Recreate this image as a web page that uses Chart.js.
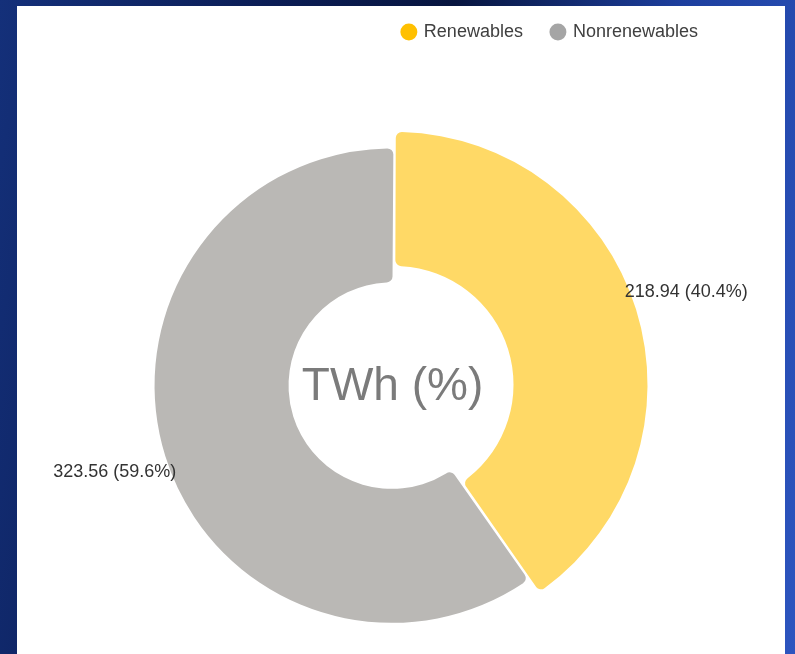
<!DOCTYPE html>
<html>
<head>
<meta charset="utf-8">
<script src="https://cdn.jsdelivr.net/npm/chart.js@4.4.0/dist/chart.umd.min.js"></script>
<style>
  html, body { margin: 0; width: 795px; height: 654px; overflow: hidden; }
  body {
    position: relative;
    background: linear-gradient(100deg, #14307a 0%, #0b1d55 30%, #07153f 50%, #1d3f9e 75%, #2d55bf 100%);
  }
  #panel { position: absolute; left: 17px; top: 6px; width: 768px; height: 660px; background: #fff; }
  #wrap { position: absolute; left: 0; top: -6px; width: 795px; height: 732px; }
</style>
</head>
<body>
<div id="panel"></div>
<div id="wrap"><canvas id="chart-energy"></canvas></div>
<script>
var labels = ["Renewables", "Nonrenewables"];
var values = [218.94, 323.56];
var sliceColors = ["#FFD966", "#BAB8B5"];
var legendColors = ["#FFC000", "#A5A5A5"];
// renewables pulled out, the rest pushed back
var sliceOffsets = [52, -39];

var total = values.reduce(function (a, b) { return a + b; }, 0);

// where an arc really ends up once its offset is applied
function arcGeometry(arc) {
  var p = arc.getProps(["x", "y", "startAngle", "endAngle", "outerRadius", "circumference"], true);
  var off = (arc.options.offset || 0) / 4;
  var half = (p.startAngle + p.endAngle) / 2;
  var fix = 1 - Math.sin(Math.min(Math.PI, p.circumference));
  return {
    x: p.x + Math.cos(half) * off,
    y: p.y + Math.sin(half) * off,
    r: p.outerRadius + off * fix,
    half: half
  };
}

var sliceLabels = {
  id: "sliceLabels",
  afterDatasetsDraw: function (chart) {
    var ctx = chart.ctx;
    var meta = chart.getDatasetMeta(0);
    ctx.save();
    ctx.font = "18px 'Liberation Sans', Arial, sans-serif";
    ctx.fillStyle = "#333";
    ctx.textBaseline = "middle";
    meta.data.forEach(function (arc, i) {
      var g = arcGeometry(arc);
      var a = g.half - 4.5 * Math.PI / 180;
      var d = g.r - 5;
      var x = g.x + Math.cos(a) * d;
      var y = g.y + Math.sin(a) * d;
      var pct = (values[i] / total * 100).toFixed(1);
      ctx.textAlign = Math.cos(a) >= 0 ? "left" : "right";
      ctx.fillText(values[i].toFixed(2) + " (" + pct + "%)", x, y);
    });

    // unit in the hole
    var area = chart.chartArea;
    ctx.font = "46px 'Liberation Sans', Arial, sans-serif";
    ctx.fillStyle = "#7b7b7b";
    ctx.textAlign = "center";
    ctx.fillText("TWh (%)", (area.left + area.right) / 2 + 10, (area.top + area.bottom) / 2 - 1.5);
    ctx.restore();
  }
};

new Chart(document.getElementById("chart-energy"), {
  type: "doughnut",
  data: {
    labels: labels,
    datasets: [{
      data: values,
      backgroundColor: sliceColors,
      borderWidth: 0,
      borderRadius: 6,
      offset: sliceOffsets,
      hoverOffset: 0
    }]
  },
  options: {
    responsive: true,
    maintainAspectRatio: false,
    animation: false,
    events: [],
    radius: 247,
    cutout: "45.75%",
    layout: {
      padding: { left: 38, right: 68, top: 0, bottom: 0 }
    },
    plugins: {
      tooltip: { enabled: false },
      legend: {
        position: "top",
        align: "end",
        labels: {
          usePointStyle: true,
          pointStyle: "circle",
          boxWidth: 12,
          boxHeight: 12,
          padding: 29,
          color: "#404040",
          font: { size: 18, family: "'Liberation Sans', Arial, sans-serif" },
          generateLabels: function (chart) {
            var items = Chart.overrides.doughnut.plugins.legend.labels.generateLabels(chart);
            items.forEach(function (item, i) {
              item.fillStyle = legendColors[i];
              item.strokeStyle = legendColors[i];
              item.lineWidth = 0;
            });
            return items;
          }
        }
      }
    }
  },
  plugins: [sliceLabels]
});
</script>
</body>
</html>
